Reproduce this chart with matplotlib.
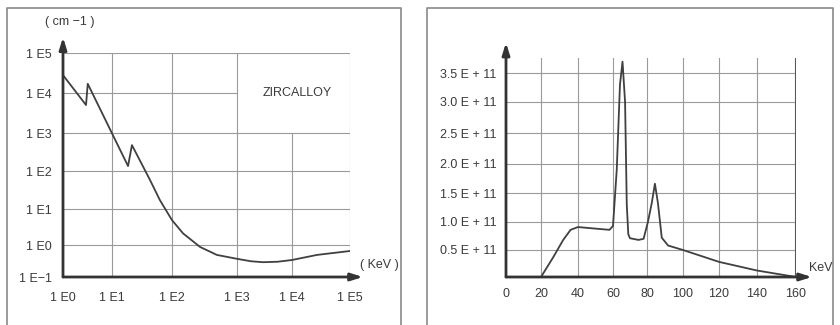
import numpy as np
import matplotlib
matplotlib.use("Agg")
import matplotlib.pyplot as plt
from matplotlib.lines import Line2D

plt.rcParams['font.family'] = ['Liberation Sans', 'DejaVu Sans']

# left panel: attenuation of zircalloy (cm-1) vs energy (keV)
zr_energy = [1, 2.95, 3.2, 18.5, 21.5, 43, 63, 100, 148, 270, 490, 1000,
             1800, 3000, 5500, 10000, 27000, 100000]
zr_mu = [2.8e4, 5000, 1.7e4, 135, 480, 58, 17, 4.9, 2.1, 0.87, 0.49, 0.37,
         0.31, 0.29, 0.30, 0.34, 0.49, 0.65]
zr_xticks = [1, 10, 100, 1000, 10000, 100000]
zr_xlabels = ['1 E0', '1 E1', '1 E2', '1 E3', '1 E4', '1 E5']
zr_yticks = [0.1, 1, 10, 100, 1000, 10000, 100000]
zr_ylabels = ['1 E\u22121', '1 E0', '1 E1', '1 E2', '1 E3', '1 E4', '1 E5']

# right panel: spectrum vs energy (keV), in units of 1e11
sp_kev = [20, 26.5, 32, 36, 40, 47, 58, 60, 62.2, 64.1, 65.6, 67.1, 68.1, 69,
          70, 75, 78, 80.5, 82.6, 84.4, 86.1, 88.2, 91.7, 100, 120, 140, 160]
sp_flux = [0, 0.36, 0.68, 0.86, 0.91, 0.89, 0.86, 0.93, 1.9, 3.3, 3.69, 3.0,
           1.3, 0.78, 0.71, 0.68, 0.70, 1.0, 1.32, 1.66, 1.32, 0.72, 0.58,
           0.5, 0.28, 0.12, 0.0]
sp_xticks = [0, 20, 40, 60, 80, 100, 120, 140, 160]
sp_yticks = [0.5, 1.0, 1.5, 2.0, 2.5, 3.0, 3.5]
sp_ylabels = ['0.5 E + 11', '1.0 E + 11', '1.5 E + 11', '2.0 E + 11',
              '2.5 E + 11', '3.0 E + 11', '3.5 E + 11']

W, H = 840, 325
GRID = '#9a9a9a'
INK = '#333333'
TXT = '#3a3a3a'


def piecewise(vals, pos):
    # hand-drawn grid: spacing is not quite regular, so map knots linearly
    vals = np.asarray(vals, float)
    pos = np.asarray(pos, float)
    s0 = (pos[1] - pos[0]) / (vals[1] - vals[0])
    s1 = (pos[-1] - pos[-2]) / (vals[-1] - vals[-2])

    def fwd(v):
        v = np.asarray(v, float)
        out = np.interp(v, vals, pos)
        out = np.where(v < vals[0], pos[0] + (v - vals[0]) * s0, out)
        out = np.where(v > vals[-1], pos[-1] + (v - vals[-1]) * s1, out)
        return out

    def inv(p):
        p = np.asarray(p, float)
        out = np.interp(p, pos, vals)
        out = np.where(p < pos[0], vals[0] + (p - pos[0]) / s0, out)
        out = np.where(p > pos[-1], vals[-1] + (p - pos[-1]) / s1, out)
        return out
    return fwd, inv


def logscale(logs, pos):
    f, g = piecewise(logs, pos)
    return (lambda x: f(np.log10(np.maximum(np.asarray(x, float), 1e-30))),
            lambda p: 10.0 ** g(p))


def box(x0, y0, x1, y1):
    return [x0 / W, 1 - y1 / H, (x1 - x0) / W, (y1 - y0) / H]


def ftext(x, y, s, **kw):
    fig.text(x / W, 1 - y / H, s, fontsize=9, color=TXT, **kw)


fig = plt.figure(figsize=(8.4, 3.25), dpi=100)

# scanned frames
for xs, ys in [([7, 7, 401, 401], [330, 8, 8, 330]),
               ([427, 427, 833, 833], [330, 8, 8, 330])]:
    fig.add_artist(Line2D([x / W for x in xs], [1 - y / H for y in ys],
                          color='#8a8a8a', lw=1.2))

# ---------------- left panel ----------------
ax = fig.add_axes(box(63, 53, 350, 277))
ax.set_xscale('function', functions=logscale([0, 1, 2, 3, 4, 5],
                                             [0, 49, 109, 174, 229, 287]))
ax.set_yscale('function', functions=logscale([-1, 0, 1, 2, 3, 4, 5],
                                             [0, 32, 68, 106, 144, 184, 224]))
ax.set_xlim(1, 1e5)
ax.set_ylim(0.1, 1e5)

for yv in [1, 10, 100, 1000, 100000]:
    ax.plot([1, 1e5], [yv, yv], color=GRID, lw=0.8)
ax.plot([1, 1000], [1e4, 1e4], color=GRID, lw=0.8)
for xv in [10, 100, 1000, 100000]:
    ax.plot([xv, xv], [0.1, 1e5], color=GRID, lw=0.8)
ax.plot([1e4, 1e4], [0.1, 1000], color=GRID, lw=0.8)

ax.plot(zr_energy, zr_mu, color='#404040', lw=1.3)

ax.set_xticks(zr_xticks, zr_xlabels)
ax.set_yticks(zr_yticks, zr_ylabels)
ax.minorticks_off()
ax.tick_params(axis='x', length=0, labelsize=9, labelcolor=TXT, pad=11)
ax.tick_params(axis='y', length=0, labelsize=9, labelcolor=TXT, pad=8)
for s in ax.spines.values():
    s.set_visible(False)
arrow = dict(arrowstyle='-|>,head_length=0.7,head_width=0.22', lw=2,
             color=INK, shrinkA=0, shrinkB=0)
ax.annotate('', xy=(1.045, 0), xytext=(0, 0), xycoords='axes fraction',
            arrowprops=arrow)
ax.annotate('', xy=(0, 1.07), xytext=(0, 0), xycoords='axes fraction',
            arrowprops=arrow)

ftext(297, 93, 'ZIRCALLOY', ha='center', va='center')
ftext(70, 22, '( cm \u22121 )', ha='center', va='center')
ftext(379, 265, '( KeV )', ha='center', va='center')

# ---------------- right panel ----------------
bx = fig.add_axes(box(506, 58, 796, 277))
bx.set_xscale('function', functions=piecewise(
    sp_xticks, [0, 35, 72, 107, 141, 177, 213, 251, 290]))
bx.set_yscale('function', functions=piecewise(
    [0, 0.5, 1, 1.5, 2, 2.5, 3, 3.5, 3.75],
    [0, 27, 55, 84, 113, 144, 175, 204, 219]))
bx.set_xlim(0, 160)
bx.set_ylim(0, 3.75)

for yv in sp_yticks:
    bx.plot([0, 160], [yv, yv], color=GRID, lw=0.8)
for xv in sp_xticks[1:-1]:
    bx.plot([xv, xv], [0, 3.75], color=GRID, lw=0.8)
bx.plot([160, 160], [0, 3.75], color='#555555', lw=1.5)

bx.plot(sp_kev, sp_flux, color='#404040', lw=1.3, clip_on=False)

bx.set_xticks(sp_xticks, [str(v) for v in sp_xticks])
bx.set_yticks(sp_yticks, sp_ylabels)
bx.tick_params(axis='x', length=0, labelsize=9, labelcolor=TXT, pad=8)
bx.tick_params(axis='y', length=0, labelsize=9, labelcolor=TXT, pad=7)
for s in bx.spines.values():
    s.set_visible(False)
bx.annotate('', xy=(1.055, 0), xytext=(0, 0), xycoords='axes fraction',
            arrowprops=arrow)
bx.annotate('', xy=(0, 1.07), xytext=(0, 0), xycoords='axes fraction',
            arrowprops=arrow)

ftext(821, 268, 'KeV', ha='center', va='center')

fig.savefig('out.png', dpi=100, facecolor='white')
